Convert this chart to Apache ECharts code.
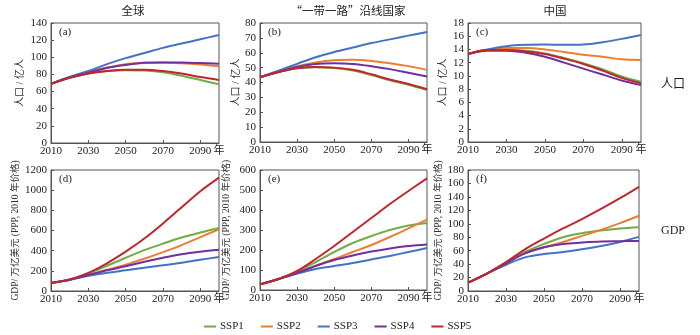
<!DOCTYPE html>
<html>
<head>
<meta charset="utf-8">
<script src="https://cdn.jsdelivr.net/npm/echarts@6/dist/echarts.min.js"></script>
<style>
  html, body { margin: 0; padding: 0; background: #fff; }
  #chart { width: 700px; height: 335px; }
</style>
</head>
<body>
<div id="chart"></div>
<script>
// Years on the horizontal axis
const years = [2010, 2020, 2030, 2040, 2050, 2060, 2070, 2080, 2090, 2100];
const scenarios = ['SSP1', 'SSP2', 'SSP3', 'SSP4', 'SSP5'];
const colors = ['#70ad47', '#ed7d31', '#4472c4', '#7030a0', '#c0262d'];

// Population, 亿人 — global
const popWorldSSP1 = [69, 76, 81, 84, 85, 84.5, 82.5, 78.5, 73.5, 68.5];
const popWorldSSP2 = [69, 77, 83, 88, 92, 93.5, 94, 93, 91.5, 89.5];
const popWorldSSP3 = [69, 77, 84, 92, 99, 105, 111, 116, 121, 126];
const popWorldSSP4 = [69, 76.5, 82, 87.5, 91, 93.5, 94, 93.8, 93.2, 92.5];
const popWorldSSP5 = [69, 76, 81, 84, 85.5, 85.5, 84, 81, 77, 73.5];

// Population, 亿人 — Belt and Road countries
const popBriSSP1 = [43.5, 47, 49.5, 50.3, 49.7, 48, 45, 41.5, 38.5, 35];
const popBriSSP2 = [43.5, 47.5, 51, 53.5, 55, 55.3, 54.5, 53, 51, 48.5];
const popBriSSP3 = [43.5, 48, 52.5, 57, 60.5, 63.5, 66.5, 69, 71.5, 74];
const popBriSSP4 = [43.5, 47, 50.5, 52.5, 53, 52.5, 51, 49, 46.5, 44];
const popBriSSP5 = [43.5, 47, 49.5, 50.5, 50, 48.5, 45.5, 42, 39, 35.5];

// Population, 亿人 — China
const popChnSSP1 = [13.3, 13.9, 13.9, 13.8, 13.4, 12.7, 11.9, 11.0, 9.9, 9.1];
const popChnSSP2 = [13.3, 13.9, 14.2, 14.2, 14.0, 13.6, 13.2, 12.9, 12.5, 12.4];
const popChnSSP3 = [13.3, 14.0, 14.5, 14.7, 14.75, 14.7, 14.75, 15.1, 15.6, 16.2];
const popChnSSP4 = [13.3, 13.8, 13.8, 13.5, 12.9, 12.0, 11.1, 10.2, 9.3, 8.6];
const popChnSSP5 = [13.3, 13.9, 13.9, 13.7, 13.3, 12.6, 11.8, 10.8, 9.7, 8.9];

// GDP, 万亿美元 (PPP, 2010) — global
const gdpWorldSSP1 = [80, 115, 175, 250, 330, 405, 470, 530, 580, 625];
const gdpWorldSSP2 = [80, 112, 160, 210, 260, 320, 385, 455, 535, 612];
const gdpWorldSSP3 = [80, 110, 150, 180, 205, 230, 255, 280, 310, 338];
const gdpWorldSSP4 = [80, 112, 158, 205, 245, 290, 330, 365, 390, 410];
const gdpWorldSSP5 = [80, 115, 180, 275, 390, 520, 670, 830, 990, 1125];

// GDP — Belt and Road countries
const gdpBriSSP1 = [28, 55, 92, 140, 190, 235, 270, 300, 322, 335];
const gdpBriSSP2 = [28, 55, 88, 122, 155, 190, 225, 265, 308, 352];
const gdpBriSSP3 = [28, 55, 82, 105, 120, 135, 153, 170, 190, 210];
const gdpBriSSP4 = [28, 55, 85, 120, 150, 173, 192, 208, 220, 228];
const gdpBriSSP5 = [28, 55, 95, 155, 220, 290, 360, 430, 495, 558];

// GDP — China
const gdpChnSSP1 = [12.5, 26, 42, 58, 70, 80, 86, 90, 93, 95];
const gdpChnSSP2 = [12.5, 26, 42, 56, 65, 73, 82, 91, 101, 112];
const gdpChnSSP3 = [12.5, 26, 39, 50, 55, 58, 62, 67, 73, 80.5];
const gdpChnSSP4 = [12.5, 26, 41, 56, 65, 70, 72, 73.5, 74, 74.5];
const gdpChnSSP5 = [12.5, 26, 43, 62, 78, 93, 107, 122, 138, 155];

// Axis ranges per panel
const yMax = [140, 80, 18, 1200, 600, 180];
const yStep = [20, 10, 2, 200, 100, 20];
const xLabelValues = [2010, 2030, 2050, 2070, 2090, 2100];
const xTickValues = [2030, 2050, 2070, 2090];

const panelTags = ['(a)', '(b)', '(c)', '(d)', '(e)', '(f)'];
const colTitles = ['全球', '“一带一路”沿线国家', '中国'];
const popName = '人口 / 亿人';
const gdpName = 'GDP/ 万亿美元 (PPP, 2010 年价格)';

const panels = [
  [popWorldSSP1, popWorldSSP2, popWorldSSP3, popWorldSSP4, popWorldSSP5],
  [popBriSSP1, popBriSSP2, popBriSSP3, popBriSSP4, popBriSSP5],
  [popChnSSP1, popChnSSP2, popChnSSP3, popChnSSP4, popChnSSP5],
  [gdpWorldSSP1, gdpWorldSSP2, gdpWorldSSP3, gdpWorldSSP4, gdpWorldSSP5],
  [gdpBriSSP1, gdpBriSSP2, gdpBriSSP3, gdpBriSSP4, gdpBriSSP5],
  [gdpChnSSP1, gdpChnSSP2, gdpChnSSP3, gdpChnSSP4, gdpChnSSP5]
];

const FONT = '"Liberation Serif", "Times New Roman", "Noto Sans CJK SC", serif';
const CJK = '"Noto Sans CJK SC", sans-serif';
const AXIS_COLOR = '#555';

// Plot rectangles for the 2x3 layout
const layout = [
  { left: 51, top: 23, width: 168, height: 120, gap: 26 },
  { left: 260, top: 23, width: 167, height: 119, gap: 14 },
  { left: 468, top: 23, width: 173, height: 119, gap: 20 },
  { left: 51, top: 170, width: 168, height: 121, gap: 31 },
  { left: 260, top: 170, width: 167, height: 120, gap: 29 },
  { left: 468, top: 170, width: 171, height: 121, gap: 25 }
];

const grids = [], xAxes = [], yAxes = [], series = [], graphics = [];

layout.forEach((g, i) => {
  grids.push({
    left: g.left, top: g.top, width: g.width, height: g.height,
    show: true, borderColor: AXIS_COLOR, borderWidth: 1, backgroundColor: 'transparent'
  });
  xAxes.push({
    type: 'value', gridIndex: i, min: 2010, max: 2100, interval: 10,
    axisLine: { show: true, lineStyle: { color: AXIS_COLOR } },
    axisTick: { show: true, inside: true, length: 3, customValues: xTickValues, lineStyle: { color: AXIS_COLOR } },
    splitLine: { show: false },
    axisLabel: {
      customValues: xLabelValues,
      color: '#222', fontSize: 11, fontFamily: FONT, margin: 3,
      formatter: v => (v === 2100 ? '年' : String(v))
    }
  });
  yAxes.push({
    type: 'value', gridIndex: i, min: 0, max: yMax[i], interval: yStep[i],
    name: i < 3 ? popName : gdpName,
    nameLocation: 'middle', nameGap: g.gap, nameRotate: 90,
    nameTextStyle: { fontSize: i < 3 ? 10 : 9.5, fontFamily: FONT, color: '#333' },
    axisLine: { show: true, lineStyle: { color: AXIS_COLOR } },
    axisTick: { show: true, inside: true, length: 3, lineStyle: { color: AXIS_COLOR } },
    splitLine: { show: false },
    axisLabel: { color: '#222', fontSize: 11, fontFamily: FONT, margin: 4, formatter: v => String(v) }
  });
  panels[i].forEach((vals, k) => {
    series.push({
      name: scenarios[k], type: 'line', xAxisIndex: i, yAxisIndex: i,
      data: years.map((y, j) => [y, vals[j]]),
      smooth: 0.35, symbol: 'none',
      lineStyle: { width: 2, color: colors[k] },
      itemStyle: { color: colors[k] },
      z: k === 4 ? 3 : 2
    });
  });
  graphics.push({
    type: 'text', left: g.left + 8, top: g.top + 4,
    style: { text: panelTags[i], font: '11px ' + FONT, fill: '#222' }
  });
});

// Column headings and row labels
const titleX = [133, 348, 555];
colTitles.forEach((t, i) => {
  graphics.push({
    type: 'text', x: titleX[i], y: 11,
    style: { text: t, font: '11.5px ' + CJK, fill: '#222', align: 'center', verticalAlign: 'middle' }
  });
});
graphics.push({
  type: 'text', x: 673, y: 83,
  style: { text: '人口', font: '12px ' + CJK, fill: '#222', align: 'center', verticalAlign: 'middle' }
});
graphics.push({
  type: 'text', x: 673, y: 231,
  style: { text: 'GDP', font: '12px ' + FONT, fill: '#222', align: 'center', verticalAlign: 'middle' }
});

const chart = echarts.init(document.getElementById('chart'), null, { renderer: 'canvas' });
chart.setOption({
  animation: false,
  backgroundColor: '#fff',
  grid: grids,
  xAxis: xAxes,
  yAxis: yAxes,
  series: series,
  graphic: graphics,
  legend: {
    data: scenarios,
    left: 199, top: 316,
    icon: 'rect', itemWidth: 12, itemHeight: 2, itemGap: 17,
    textStyle: { fontSize: 11, fontFamily: FONT, color: '#222', padding: [0, 0, 0, -1] }
  }
});
</script>
</body>
</html>
